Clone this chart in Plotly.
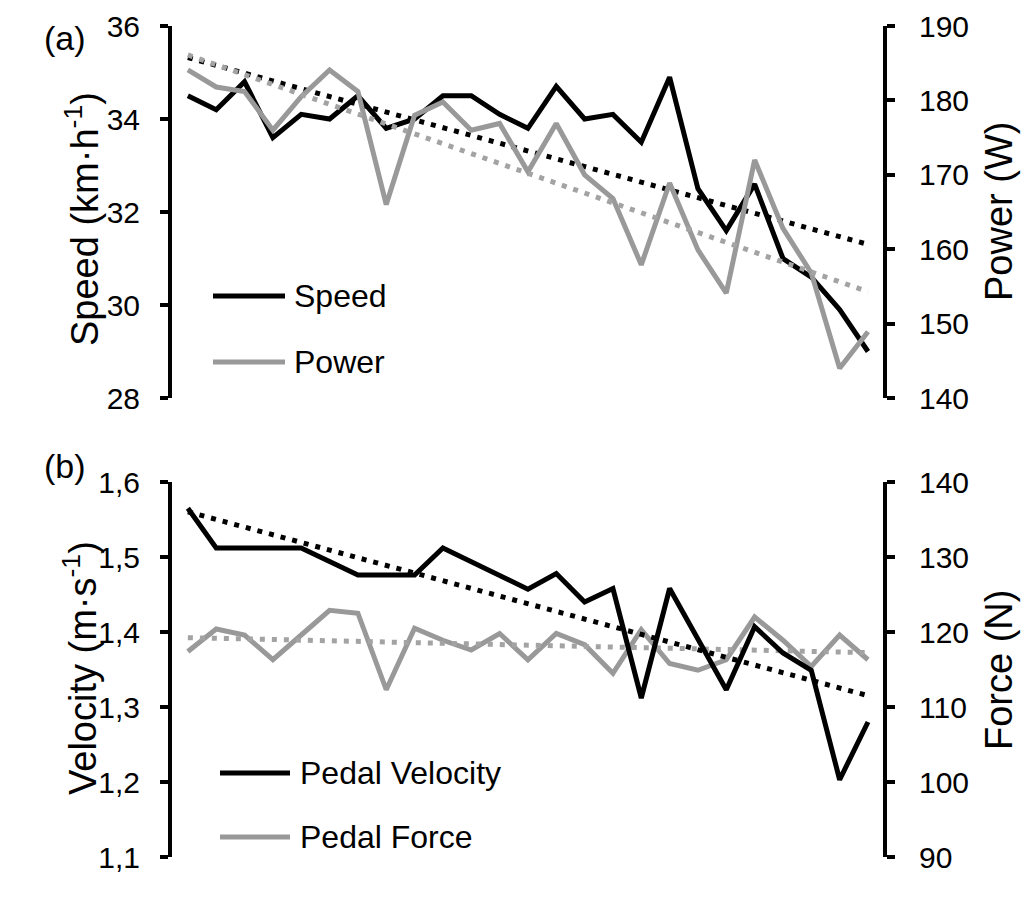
import numpy as np
import plotly.graph_objects as go

# ---------------- data ----------------
sessions = list(range(25))

speed = [34.5, 34.2, 34.8, 33.6, 34.1, 34.0, 34.5, 33.8, 34.0, 34.5, 34.5, 34.1, 33.8,
         34.7, 34.0, 34.1, 33.5, 34.9, 32.5, 31.6, 32.6, 31.0, 30.6, 29.9, 29.0]
power = [184.1, 181.8, 181.2, 176.0, 180.5, 184.1, 181.2, 166.0, 178.0, 179.8, 176.0, 176.9, 170.4,
         176.9, 170.0, 166.8, 157.9, 168.9, 159.9, 154.1, 172.0, 162.8, 156.8, 144.0, 148.9]
velocity = [1.565, 1.512, 1.512, 1.512, 1.512, 1.494, 1.476, 1.476, 1.476, 1.512, 1.494, 1.476, 1.457,
            1.478, 1.440, 1.458, 1.312, 1.458, 1.389, 1.323, 1.407, 1.372, 1.349, 1.203, 1.280]
force = [117.4, 120.4, 119.6, 116.3, 119.6, 122.9, 122.5, 112.3, 120.5, 118.9, 117.6, 119.8, 116.3,
         119.8, 118.3, 114.5, 120.3, 115.8, 114.9, 116.3, 122.0, 118.9, 115.4, 119.6, 116.3]

speed_ticks = [28, 30, 32, 34, 36]
power_ticks = [140, 150, 160, 170, 180, 190]
velocity_ticks = [1.1, 1.2, 1.3, 1.4, 1.5, 1.6]
velocity_ticktext = ["1,1", "1,2", "1,3", "1,4", "1,5", "1,6"]
force_ticks = [90, 100, 110, 120, 130, 140]

# ---------------- styling ----------------
FONT = "Arial, Liberation Sans, sans-serif"
BLACK = "#000000"
GRAY = "#999999"
GRAY_DOT = "#a3a3a3"
W, H = 1032, 901
L, R, T, B = 172, 149, 26, 44
PW, PH = W - L - R, H - T - B


def px(x):
    return (x - L) / PW


def py(y):
    return (H - B - y) / PH


def trend(vals):
    x = np.array(sessions, dtype=float)
    m, c = np.polyfit(x, np.array(vals, dtype=float), 1)
    return [m * x[0] + c, m * x[-1] + c]


fig = go.Figure()
line_w = 5

# top panel
fig.add_trace(go.Scatter(x=sessions, y=speed, mode="lines", line=dict(color=BLACK, width=line_w),
                         xaxis="x", yaxis="y", showlegend=False))
fig.add_trace(go.Scatter(x=[sessions[0], sessions[-1]], y=trend(speed), mode="lines",
                         line=dict(color=BLACK, width=5, dash="5px,7px"),
                         xaxis="x", yaxis="y", showlegend=False))
fig.add_trace(go.Scatter(x=sessions, y=power, mode="lines", line=dict(color=GRAY, width=line_w),
                         xaxis="x", yaxis="y2", showlegend=False))
fig.add_trace(go.Scatter(x=[sessions[0], sessions[-1]], y=trend(power), mode="lines",
                         line=dict(color=GRAY_DOT, width=5, dash="5px,7px"),
                         xaxis="x", yaxis="y2", showlegend=False))

# bottom panel (force on y3 right, velocity on y4 left overlaying)
fig.add_trace(go.Scatter(x=sessions, y=force, mode="lines", line=dict(color=GRAY, width=line_w),
                         xaxis="x2", yaxis="y3", showlegend=False))
fig.add_trace(go.Scatter(x=[sessions[0], sessions[-1]], y=trend(force), mode="lines",
                         line=dict(color=GRAY_DOT, width=5, dash="5px,7px"),
                         xaxis="x2", yaxis="y3", showlegend=False))
fig.add_trace(go.Scatter(x=sessions, y=velocity, mode="lines", line=dict(color=BLACK, width=line_w),
                         xaxis="x2", yaxis="y4", showlegend=False))
fig.add_trace(go.Scatter(x=[sessions[0], sessions[-1]], y=trend(velocity), mode="lines",
                         line=dict(color=BLACK, width=5, dash="5px,7px"),
                         xaxis="x2", yaxis="y4", showlegend=False))

top_dom = [py(398), 1.0]
bot_dom = [0.0, py(482)]
xr = [-0.56, 24.53]

tickfont = dict(family=FONT, size=30, color=BLACK)
common_y = dict(showgrid=False, zeroline=False, showline=True, linecolor=BLACK, linewidth=4,
                ticks="outside", ticklen=8, tickwidth=4, tickcolor=BLACK, tickfont=tickfont)

fig.update_layout(
    width=W, height=H,
    margin=dict(l=L, r=R, t=T, b=B, autoexpand=False),
    paper_bgcolor="white", plot_bgcolor="white",
    font=dict(family=FONT, color=BLACK),
    xaxis=dict(domain=[0, 1], range=xr, visible=False, anchor="y"),
    xaxis2=dict(domain=[0, 1], range=xr, visible=False, anchor="y3"),
    yaxis=dict(domain=top_dom, range=[28, 36], tickvals=speed_ticks, side="left", anchor="x",
               ticklabelstandoff=14, **common_y),
    yaxis2=dict(range=[140, 190], tickvals=power_ticks, side="right", overlaying="y", anchor="x",
                ticklabelstandoff=18, **common_y),
    yaxis3=dict(domain=bot_dom, range=[90, 140], tickvals=force_ticks, side="right", anchor="x2",
                ticklabelstandoff=18, **common_y),
    yaxis4=dict(range=[1.1, 1.6], tickvals=velocity_ticks, ticktext=velocity_ticktext, side="left",
                overlaying="y3", anchor="x2", ticklabelstandoff=14, **common_y),
)

annots = []
title_font = dict(family=FONT, size=38, color=BLACK)
annots.append(dict(text="Speed (km·h<sup>-1</sup>)", x=px(82), y=py(219), textangle=-90, font=title_font))
annots.append(dict(text="Power (W)", x=px(999), y=py(212), textangle=-90, font=title_font))
annots.append(dict(text="Velocity (m·s<sup>-1</sup>)", x=px(80), y=py(668), textangle=-90, font=title_font))
annots.append(dict(text="Force (N)", x=px(999), y=py(670), textangle=-90, font=title_font))

panel_font = dict(family=FONT, size=34, color=BLACK)
annots.append(dict(text="(a)", x=px(42), y=py(38), xanchor="left", yanchor="middle", font=panel_font))
annots.append(dict(text="(b)", x=px(42), y=py(466), xanchor="left", yanchor="middle", font=panel_font))

# legends (manual)
leg_font = dict(family=FONT, size=32, color=BLACK)
legend_items = [
    ("Speed", BLACK, 213, 285, 292, 296),
    ("Power", GRAY, 213, 285, 292, 362),
    ("Pedal Velocity", BLACK, 220, 290, 298, 773),
    ("Pedal Force", GRAY, 220, 290, 298, 837),
]
shapes = []
for name, col, x0, x1, tx, yy in legend_items:
    shapes.append(dict(type="line", xref="paper", yref="paper", x0=px(x0), x1=px(x1), y0=py(yy), y1=py(yy),
                       line=dict(color=col, width=5)))
    annots.append(dict(text=name, x=px(tx), y=py(yy), xanchor="left", yanchor="middle", font=leg_font))

for a in annots:
    a.update(xref="paper", yref="paper", showarrow=False)
    a.setdefault("xanchor", "center")
    a.setdefault("yanchor", "middle")

fig.update_layout(annotations=annots, shapes=shapes)
fig.write_html("out.html")
